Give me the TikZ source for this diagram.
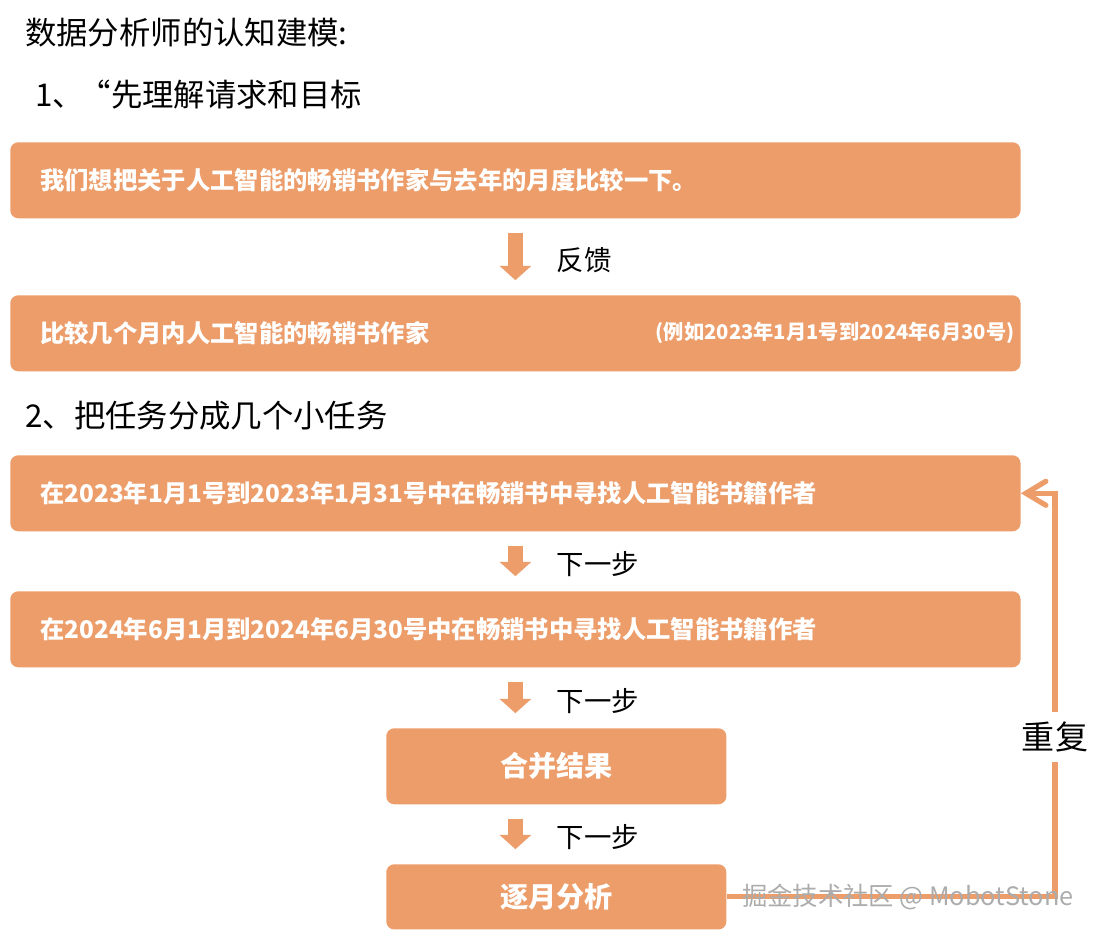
\documentclass[tikz,border=0pt]{standalone}
\usepackage{fontspec}
\setmainfont{Noto Sans CJK SC}
\usepackage{tikz}
\usetikzlibrary{arrows.meta}
\definecolor{boxorange}{RGB}{236,157,106}

\begin{document}
\begin{tikzpicture}[x=0.025cm,y=-0.025cm,
  wide/.style={fill=boxorange,rounded corners=0.2cm,anchor=north west,text=white,
    font=\fontsize{17.3}{20}\selectfont\bfseries,align=left,text width=23.75cm,
    inner xsep=0.75cm,inner ysep=0pt,minimum height=1.9cm},
  small/.style={fill=boxorange,rounded corners=0.2cm,anchor=north west,text=white,
    font=\fontsize{20}{24}\selectfont\bfseries,minimum width=8.5cm,minimum height=1.9cm},
  heading/.style={anchor=west,inner sep=0pt,font=\fontsize{22.3}{26}\selectfont},
  flow/.style={draw=boxorange,line width=0.37cm,-{Triangle[length=0.36cm,width=0.78cm]},
    shorten <=0.35cm,shorten >=0.37cm},
  steplabel/.style={anchor=west,inner sep=0pt,xshift=0.85cm,yshift=-0.08cm,
    font=\fontsize{19.5}{23}\selectfont},
  loopline/.style={draw=boxorange,line width=0.13cm,
    -{Straight Barb[length=0.5cm,width=0.6cm,line cap=round]}}
]

\useasboundingbox (0,0) rectangle (1100,937);

% headings
\node[heading] (title) at (25,33) {数据分析师的认知建模:};
\node[heading] (h1) at (35,95) {1、\kern-3pt “先理解请求和目标};
\node[heading] (h2) at (25,416) {2、把任务分成几个小任务};

% boxes
\node[wide] (b1) at (10,142) {我们想把关于人工智能的畅销书作家与去年的月度比较一下。};
\node[wide] (b2) at (10,295) {比较几个月内人工智能的畅销书作家};
\node[anchor=east,inner sep=0pt,text=white,font=\fontsize{14.4}{17}\selectfont\bfseries] (note)
  at ([xshift=-0.15cm]b2.east) {(例如2023年1月1号到2024年6月30号)};
\node[wide] (b3) at (10,455) {在2023年1月1号到2023年1月31号中在畅销书中寻找人工智能书籍作者};
\node[wide] (b4) at (10,591) {在2024年6月1月到2024年6月30号中在畅销书中寻找人工智能书籍作者};
\node[small] (b5) at (386,728) {合并结果};
\node[small,minimum height=1.63cm] (b6) at (386,864) {逐月分析};

% arrows
\draw[flow] (b1.south) -- (b2.north) node[steplabel,midway] (l1) {反馈};
\draw[flow] (b3.south) -- (b4.north) node[steplabel,midway] (l2) {下一步};
\draw[flow] (b4.south) -- (b4.south |- b5.north) node[steplabel,midway] (l3) {下一步};
\draw[flow] (b4.south |- b5.south) -- (b4.south |- b6.north) node[steplabel,midway] (l4) {下一步};

% repeat loop
\coordinate (rx) at (1055,737);
\draw[loopline] (b6.east) -- (b6.east -| rx) -- (b3.east -| rx) -- (b3.east);
\node[fill=white,inner xsep=0pt,inner ysep=0.25cm,font=\fontsize{23.5}{28}\selectfont] (rep) at (rx) {重复};

\node[anchor=west,inner sep=0pt,text=gray!65,font=\fontsize{18}{21}\selectfont] (wm)
  at (742,897) {掘金技术社区 @ MobotStone};

\end{tikzpicture}
\end{document}
